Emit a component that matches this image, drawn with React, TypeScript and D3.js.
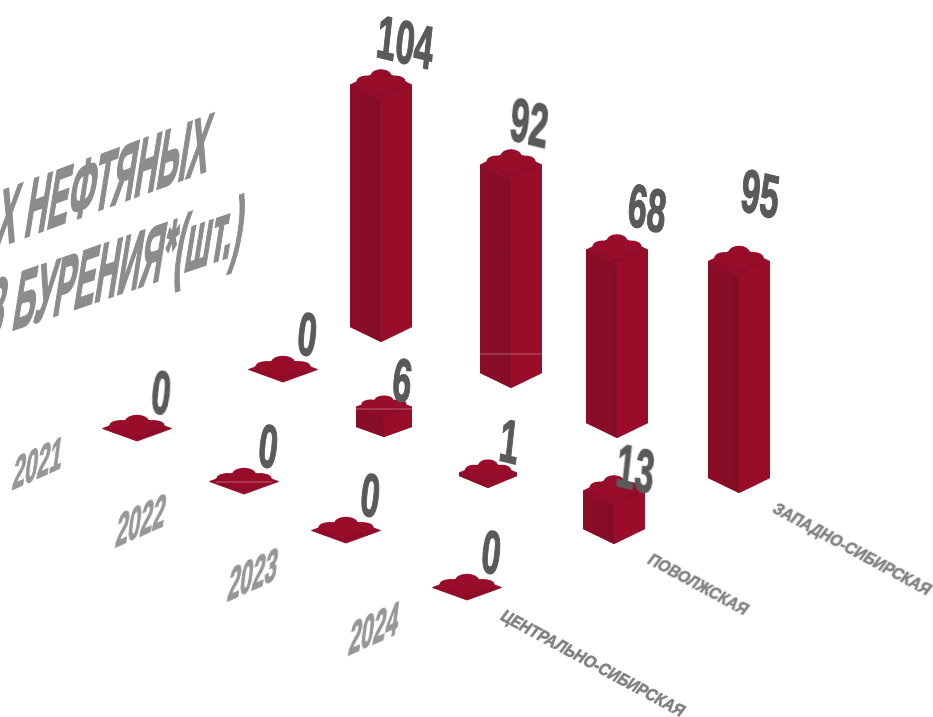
import React from "react";
import * as d3 from "d3";

const years = ["2021", "2022", "2023", "2024"];
const regions = ["ЦЕНТРАЛЬНО-СИБИРСКАЯ", "ПОВОЛЖСКАЯ", "ЗАПАДНО-СИБИРСКАЯ"];
const centralSiberian = [0, 0, 0, 0];
const volga = [0, 6, 1, 13];
const westSiberian = [104, 92, 68, 95];
const series = [centralSiberian, volga, westSiberian];
const titleLines = ["Х НЕФТЯНЫХ", "З БУРЕНИЯ*(шт.)"];

// Warped floor projection: one piecewise scale per column, domain = row index.
const rowIdx = [0, 1, 2, 3];
const floorX = [
  d3.scaleLinear().domain(rowIdx).range([137, 244, 346, 467]),
  d3.scaleLinear().domain(rowIdx).range([283, 384, 488, 614]),
  d3.scaleLinear().domain(rowIdx).range([381, 511, 617, 739]),
];
const floorY = [
  d3.scaleLinear().domain(rowIdx).range([441, 494, 543, 600]),
  d3.scaleLinear().domain(rowIdx).range([382, 437, 488, 544]),
  d3.scaleLinear().domain(rowIdx).range([342, 388, 438, 493]),
];
const yearX = d3.scaleLinear().domain(rowIdx).range([36, 139, 251, 372]);
const yearY = d3.scaleLinear().domain(rowIdx).range([479, 537, 591, 645]);
const heightScale = d3.scaleLinear().domain([0, 1, 6, 13, 68, 92, 104]).range([0, 3, 20, 38, 173, 208, 242]);
const widthScale = d3.scaleLinear().domain([0, 1, 6, 13]).range([69, 58, 56, 62]).clamp(true);
const depthScale = d3.scaleLinear().domain([0, 6, 13]).range([12.5, 10, 15]).clamp(true);

const labelLift = d3.scaleThreshold<number, number>().domain([1, 6, 14, 93, 96]).range([-48, -44, -37, -57, -83, -58]);
const labelShiftX = d3.scaleThreshold<number, number>().domain([1, 6, 14, 69, 93, 96]).range([22, 19, 16, 28, 16, 19, 22]);

const path = d3.line<[number, number]>();
const C = { right: "#990a2c", top: "#960a2b", stud: "#980a2c", studSide: "#8f0a29" };

function Brick({ x, y, v }: { x: number; y: number; v: number }) {
  const hw = widthScale(v) / 2;
  const hd = depthScale(v);
  const h = heightScale(v);
  const cy = y - h - hd; // top-face centre
  const studs: [number, number][] = [
    [0, -hd / 2.4],
    [-hw * 0.47, 0],
    [hw * 0.47, 0],
    [0, hd / 2.6],
  ];
  const rx = hw * 0.33;
  const ry = hd * 0.42;
  const lift = 3.2;
  return (
    <g>
      <path
        d={path([[x - hw, cy], [x, cy - hd], [x + hw, cy], [x + hw, y - hd], [x, y], [x - hw, y - hd]])! + "Z"}
        fill={C.top}
      />
      <path d={path([[x - hw, y - hd], [x, y], [x, y - h], [x - hw, y - h - hd]])! + "Z"} fill="url(#leftFace)" />
      <path d={path([[x + hw, y - hd], [x, y], [x, y - h], [x + hw, y - h - hd]])! + "Z"} fill={C.right} />
      <path d={path([[x - hw, cy], [x, cy - hd], [x + hw, cy], [x, cy + hd]])! + "Z"} fill={C.top} stroke={C.top} strokeWidth={0.8} />
      {studs.map(([dx, dy], i) => (
        <g key={i}>
          <ellipse cx={x + dx} cy={cy + dy} rx={rx} ry={ry} fill={C.studSide} />
          <rect x={x + dx - rx} y={cy + dy - lift} width={rx * 2} height={lift} fill={C.studSide} />
          <ellipse cx={x + dx} cy={cy + dy - lift} rx={rx} ry={ry} fill={C.stud} />
        </g>
      ))}
    </g>
  );
}

const sansBold = "'Liberation Sans', Arial, sans-serif";

export default function App() {
  const cells = series
    .flatMap((vals, c) => vals.map((v, r) => ({ c, r, v, x: floorX[c](r), y: floorY[c](r) })))
    .sort((a, b) => a.y - b.y);
  return (
    <svg width={933} height={717} style={{ position: "absolute", left: 0, top: 0, background: "#fff" }}>
      <defs>
        <linearGradient id="leftFace" x1="0" x2="1" y1="0" y2="0">
          <stop offset="0" stopColor="#8c0a28" />
          <stop offset="0.7" stopColor="#870a27" />
          <stop offset="0.92" stopColor="#7f0a24" />
          <stop offset="1" stopColor="#8a0a27" />
        </linearGradient>
        <filter id="soft" x="-5%" y="-5%" width="110%" height="110%">
          <feGaussianBlur stdDeviation="0.6" />
        </filter>
        <filter id="softer" x="-5%" y="-5%" width="110%" height="110%">
          <feGaussianBlur stdDeviation="0.7" />
        </filter>
      </defs>

      <g
        filter="url(#softer)"
        fill="#8c8c8c"
        stroke="#8c8c8c"
        strokeWidth={2.6}
        fontFamily={sansBold}
        fontWeight={700}
      >
        <text fontSize={84} textAnchor="end" transform="matrix(0.37,-0.135,-0.16,1,206,171)">
          {titleLines[0]}
        </text>
        <text fontSize={84} textAnchor="end" transform="matrix(0.37,-0.125,-0.16,1,240,253)">
          {titleLines[1]}
        </text>
      </g>

      <g filter="url(#soft)">
        {cells.map((d) => (
          <Brick key={`${d.c}-${d.r}`} x={d.x} y={d.y} v={d.v} />
        ))}
      </g>

      <g
        filter="url(#soft)"
        fill="#5a5a5a"
        stroke="#5a5a5a"
        strokeWidth={1.5}
        fontFamily={sansBold}
        fontWeight={700}
        textAnchor="middle"
      >
        {cells.map((d) => {
          const top = d.y - heightScale(d.v);
          const lx = d.x + labelShiftX(d.v) + (d.v === 13 ? 3 : 0);
          const ly = top + labelLift(d.v) + 21;
          return (
            <text key={`${d.c}-${d.r}`} fontSize={60} transform={`matrix(0.56,0.135,-0.11,1,${lx},${ly})`}>
              {d.v}
            </text>
          );
        })}
      </g>

      <g
        filter="url(#soft)"
        fill="#979797"
        stroke="#979797"
        strokeWidth={1.4}
        fontFamily={sansBold}
        fontWeight={700}
        textAnchor="middle"
      >
        {years.map((y, r) => (
          <text key={y} fontSize={47} transform={`matrix(0.47,-0.21,-0.13,1,${yearX(r)},${yearY(r)})`}>
            {y}
          </text>
        ))}
      </g>

      <g
        filter="url(#soft)"
        fill="#808080"
        stroke="#808080"
        strokeWidth={0.7}
        fontFamily={sansBold}
        fontWeight={700}
      >
        {regions.map((name, c) => (
          <text
            key={name}
            fontSize={21}
            transform={`matrix(0.635,0.343,-0.5,0.66,${floorX[c](3) + 32},${floorY[c](3) + 19})`}
          >
            {name}
          </text>
        ))}
      </g>

      <g stroke="#fff" strokeOpacity={0.35} strokeWidth={1.2}>
        <line x1={floorX[2](1) - 31} x2={floorX[2](1) + 31} y1={floorY[2](1) - 34} y2={floorY[2](1) - 34} />
        <line x1={floorX[1](1) - 28} x2={floorX[1](1) + 28} y1={floorY[1](1) - 28} y2={floorY[1](1) - 28} />
        <line x1={floorX[0](1) - 28} x2={floorX[0](1) + 28} y1={floorY[0](1) - 12} y2={floorY[0](1) - 12} />
      </g>
    </svg>
  );
}
